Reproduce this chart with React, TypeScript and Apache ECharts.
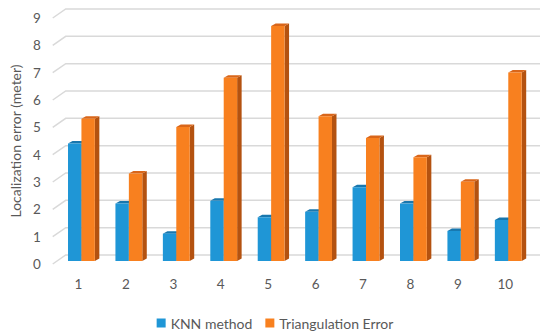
import React, { useEffect, useRef } from "react";
import * as echarts from "echarts";

const categories = ["1", "2", "3", "4", "5", "6", "7", "8", "9", "10"];
const knnValues = [4.3, 2.1, 1.0, 2.2, 1.6, 1.8, 2.7, 2.1, 1.1, 1.5];
const triValues = [5.2, 3.2, 4.9, 6.7, 8.6, 5.3, 4.5, 3.8, 2.9, 6.9];
const yTicks = [0, 1, 2, 3, 4, 5, 6, 7, 8, 9];
const seriesNames = ["KNN method", "Triangulation Error"];

const FONT = "Lato";
const GRID_DX = 13;
const GRID_DY = -9;
const BAR_PLANE_DY = -3;
const BAR_DX = 4.5;
const BAR_DY = -2.5;

const palette = [
  { front: "#1F96D6", top: "#1877AE", side: "#14679A" },
  { front: "#F8801F", top: "#D9661A", side: "#B45210" },
];

function makeBarRender(sIdx: number) {
  return (params: any, api: any) => {
    const i = api.value(0);
    const v = api.value(1);
    const top = api.coord([i, v]);
    const base = api.coord([i, 0]);
    const band = api.size([1, 0])[0];
    const w = band * 0.283;
    const x = sIdx === 0 ? top[0] - band * 0.22 : top[0] - band * 0.22 + w;
    const yT = top[1] + BAR_PLANE_DY;
    const yB = base[1] + BAR_PLANE_DY;
    const c = palette[sIdx];
    return {
      type: "group",
      children: [
        {
          type: "polygon",
          shape: {
            points: [
              [x + w, yT],
              [x + w + BAR_DX, yT + BAR_DY],
              [x + w + BAR_DX, yB + BAR_DY],
              [x + w, yB],
            ],
          },
          style: { fill: c.side },
        },
        {
          type: "polygon",
          shape: {
            points: [
              [x, yT],
              [x + w, yT],
              [x + w + BAR_DX, yT + BAR_DY],
              [x + BAR_DX, yT + BAR_DY],
            ],
          },
          style: { fill: c.top },
        },
        {
          type: "rect",
          shape: { x: x, y: yT, width: w, height: yB - yT },
          style: { fill: c.front },
        },
      ],
    };
  };
}

export default function App() {
  const ref = useRef<HTMLDivElement>(null);
  useEffect(() => {
    if (!ref.current) return;
    const chart = echarts.init(ref.current, undefined, { renderer: "svg" });
    chart.setOption({
      animation: false,
      backgroundColor: "#ffffff",
      textStyle: { fontFamily: FONT },
      grid: { left: 51, right: 21, top: 18, bottom: 67 },
      legend: {
        data: seriesNames,
        top: 311,
        left: "center",
        icon: "rect",
        itemWidth: 9,
        itemHeight: 9,
        itemGap: 13,
        textStyle: { fontFamily: FONT, fontSize: 14, color: "#595959" },
      },
      xAxis: {
        type: "category",
        data: categories,
        axisLine: { show: false },
        axisTick: { show: false },
        axisLabel: { color: "#595959", fontSize: 13.5, fontFamily: FONT, margin: 13 },
        splitLine: { show: false },
      },
      yAxis: {
        type: "value",
        min: 0,
        max: 9,
        interval: 1,
        name: "Localization error (meter)",
        nameLocation: "middle",
        nameRotate: 90,
        nameGap: 30,
        nameTextStyle: { color: "#595959", fontSize: 14, fontFamily: FONT },
        axisLine: { show: false },
        axisTick: { show: false },
        axisLabel: { color: "#595959", fontSize: 13.5, fontFamily: FONT, margin: 14 },
        splitLine: { show: false },
      },
      series: [
        {
          type: "custom",
          name: "grid",
          silent: true,
          z: 1,
          data: yTicks.map((t) => [0, t]),
          renderItem: (params: any, api: any) => {
            const cs = params.coordSys;
            const p = api.coord([0, api.value(1)]);
            const y = p[1];
            const x0 = cs.x - 2;
            return {
              type: "polyline",
              shape: {
                points: [
                  [x0, y],
                  [x0 + GRID_DX, y + GRID_DY],
                  [cs.x + cs.width + 11, y + GRID_DY],
                ],
              },
              style: { stroke: "#D9D9D9", lineWidth: 1.5, fill: "none" },
            };
          },
        },
        {
          type: "custom",
          name: seriesNames[0],
          z: 2,
          itemStyle: { color: palette[0].front },
          data: knnValues.map((v, i) => [i, v]),
          renderItem: makeBarRender(0),
        },
        {
          type: "custom",
          name: seriesNames[1],
          z: 3,
          itemStyle: { color: palette[1].front },
          data: triValues.map((v, i) => [i, v]),
          renderItem: makeBarRender(1),
        },
      ],
    });
    return () => chart.dispose();
  }, []);
  return (
    <div
      ref={ref}
      style={{ position: "fixed", left: 0, top: 0, width: 550, height: 331 }}
    />
  );
}
